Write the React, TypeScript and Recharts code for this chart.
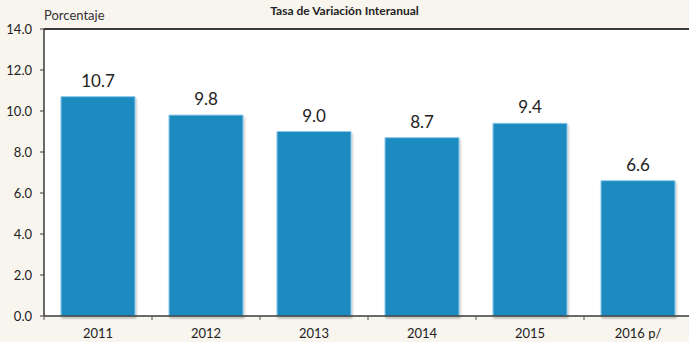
import React from "react";
import {
  BarChart,
  Bar,
  XAxis,
  YAxis,
  ReferenceLine,
  LabelList,
} from "recharts";

const years = ["2011", "2012", "2013", "2014", "2015", "2016 p/"];
const rates = [10.7, 9.8, 9.0, 8.7, 9.4, 6.6];
const yTicks = [0, 2, 4, 6, 8, 10, 12, 14];

const data = years.map((year, i) => ({ year, rate: rates[i] }));

const FONT = "Lato, 'Open Sans', sans-serif";
const AXIS = "#3a3a3a";

// Year label plus small tick marks at the category boundaries
const YearTick = (props: any) => {
  const { x, y, payload, index } = props;
  const half = payload && payload.offset ? payload.offset : 54;
  const last = index === years.length - 1;
  return (
    <g>
      <line x1={x - half} x2={x - half} y1={y} y2={y + 4} stroke="#555" />
      {last && <line x1={x + half} x2={x + half} y1={y} y2={y + 4} stroke="#555" />}
      <text x={x} y={y + 22} textAnchor="middle" fill="#222" fontSize={13} fontFamily={FONT}>
        {payload.value}
      </text>
    </g>
  );
};

export default function App() {
  return (
    <div
      style={{
        position: "absolute",
        left: 0,
        top: 0,
        width: 689,
        height: 342,
        overflow: "hidden",
        background: "#f8f5ee",
        fontFamily: FONT,
      }}
    >
      <div
        style={{
          position: "absolute",
          left: 0,
          right: 0,
          top: 3,
          textAlign: "center",
          fontSize: 12,
          fontWeight: 700,
          color: "#222",
        }}
      >
        Tasa de Variación Interanual
      </div>
      <div style={{ position: "absolute", left: 44, top: 7, fontSize: 13, color: "#333" }}>
        Porcentaje
      </div>
      <BarChart
        width={692}
        height={342}
        data={data}
        margin={{ top: 29, right: 0, bottom: 0, left: 0 }}
        barCategoryGap={17}
        style={{ position: "absolute", left: 0, top: 0 }}
      >
        <defs>
          <filter id="barShadow" x="-10%" y="-10%" width="130%" height="130%">
            <feDropShadow dx="1" dy="2" stdDeviation="1.2" floodColor="#000" floodOpacity="0.25" />
          </filter>
        </defs>
        <rect x={44} y={29} width={648} height={287} fill="#ffffff" />
        <XAxis
          dataKey="year"
          height={26}
          axisLine={{ stroke: AXIS, strokeWidth: 1.5 }}
          tickLine={false}
          tick={<YearTick />}
          tickSize={0}
          tickMargin={0}
          interval={0}
        />
        <YAxis
          width={44}
          domain={[0, 14]}
          ticks={yTicks}
          tickFormatter={(v: number) => v.toFixed(1)}
          axisLine={{ stroke: AXIS, strokeWidth: 1.5 }}
          tickLine={{ stroke: AXIS }}
          tickSize={4}
          tickMargin={8}
          tick={{ fill: "#222", fontSize: 13, fontFamily: FONT }}
          interval={0}
        />
        <ReferenceLine y={14} stroke={AXIS} strokeWidth={2} />
        <Bar
          dataKey="rate"
          fill="#1f8bc0"
          stroke="#8cc8ea"
          strokeWidth={1}
          filter="url(#barShadow)"
          isAnimationActive={false}
        >
          <LabelList
            dataKey="rate"
            position="top"
            offset={10}
            formatter={(v: number) => v.toFixed(1)}
            style={{ fill: "#222", fontSize: 17, fontFamily: FONT }}
          />
        </Bar>
      </BarChart>
    </div>
  );
}
